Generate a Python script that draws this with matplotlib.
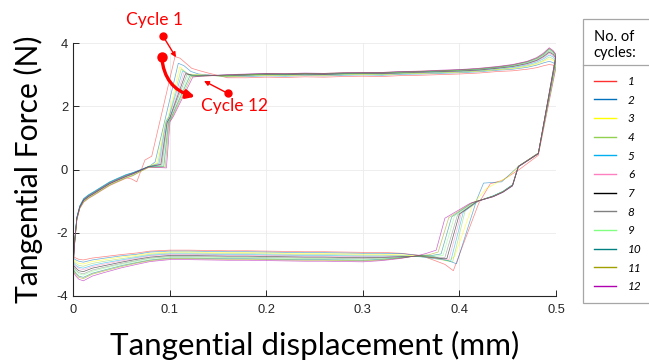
import numpy as np
import matplotlib
matplotlib.use("Agg")
import matplotlib.pyplot as plt
from matplotlib.lines import Line2D

plt.rcParams['axes.unicode_minus'] = False

# ---------------- data ----------------
CYCLES = [str(i) for i in range(1, 13)]
COLORS = ['#ff3030', '#0072bd', '#ffff00', '#92d050', '#00b0f0', '#ff80c0',
          '#000000', '#808080', '#80ff80', '#008080', '#a0a000', '#b000b0']

# upper branch: initial rise (shared x)
RISE_X = [0.0, 0.002, 0.004, 0.007, 0.011, 0.016, 0.021, 0.03, 0.038, 0.046, 0.055]
RISE_F = [
    [-2.7, -2.2, -1.56, -1.22, -1.02, -0.9, -0.81, -0.64, -0.49, -0.38, -0.26],
    [-2.8, -2.15, -1.5, -1.15, -0.92, -0.8, -0.71, -0.54, -0.39, -0.28, -0.16],
    [-2.86, -2.18, -1.53, -1.18, -0.95, -0.83, -0.74, -0.57, -0.42, -0.31, -0.19],
    [-2.85, -2.22, -1.57, -1.21, -1.0, -0.88, -0.79, -0.62, -0.47, -0.36, -0.24],
    [-2.89, -2.16, -1.51, -1.16, -0.93, -0.81, -0.72, -0.55, -0.4, -0.29, -0.17],
    [-2.94, -2.25, -1.6, -1.24, -1.04, -0.92, -0.83, -0.66, -0.51, -0.4, -0.28],
    [-2.97, -2.2, -1.55, -1.2, -0.98, -0.86, -0.77, -0.6, -0.45, -0.34, -0.22],
    [-3.02, -2.19, -1.54, -1.19, -0.96, -0.84, -0.75, -0.58, -0.43, -0.32, -0.2],
    [-3.07, -2.23, -1.58, -1.22, -1.01, -0.89, -0.8, -0.63, -0.48, -0.37, -0.25],
    [-3.1, -2.17, -1.52, -1.17, -0.94, -0.82, -0.73, -0.56, -0.41, -0.3, -0.18],
    [-3.15, -2.24, -1.59, -1.23, -1.03, -0.91, -0.82, -0.65, -0.5, -0.39, -0.27],
    [-3.18, -2.2, -1.55, -1.2, -0.97, -0.85, -0.76, -0.59, -0.44, -0.33, -0.21],
]

# upper branch: stick-slip step (per cycle)
STEP_UP_X = [
    [0.0607, 0.066, 0.0745, 0.0815, 0.1056, 0.1108, 0.1229, 0.1315],
    [0.062, 0.068, 0.075, 0.08, 0.085, 0.109, 0.115, 0.122, 0.13],
    [0.062, 0.07, 0.078, 0.0865, 0.0955, 0.0985, 0.1105, 0.1185],
    [0.062, 0.07, 0.078, 0.0878, 0.096, 0.099, 0.112, 0.12],
    [0.062, 0.07, 0.078, 0.089, 0.0965, 0.0995, 0.1135, 0.1215],
    [0.062, 0.07, 0.078, 0.09, 0.097, 0.1, 0.115, 0.123],
    [0.062, 0.07, 0.078, 0.091, 0.0975, 0.1005, 0.1165, 0.1245],
    [0.062, 0.07, 0.078, 0.092, 0.098, 0.101, 0.118, 0.126],
    [0.062, 0.07, 0.078, 0.093, 0.0985, 0.1015, 0.1195, 0.1275],
    [0.062, 0.07, 0.078, 0.094, 0.099, 0.102, 0.121, 0.129],
    [0.062, 0.07, 0.078, 0.0955, 0.0995, 0.1025, 0.1225, 0.1305],
    [0.062, 0.07, 0.078, 0.0967, 0.1004, 0.1038, 0.124, 0.132],
]
STEP_UP_F = [
    [-0.3, -0.39, 0.30, 0.42, 3.57, 3.52, 3.2, 3.12],
    [-0.1, -0.03, 0.05, 0.12, 0.24, 3.36, 3.28, 3.1, 3.02],
    [-0.12, -0.02, 0.1, 0.2, 1.52, 1.66, 3.25, 3.02],
    [-0.17, -0.05, 0.08, 0.19, 1.48, 1.63, 3.18, 3.0],
    [-0.1, -0.01, 0.09, 0.18, 1.53, 1.67, 3.12, 2.99],
    [-0.2, -0.06, 0.07, 0.17, 1.47, 1.62, 3.07, 2.98],
    [-0.14, -0.03, 0.08, 0.16, 1.5, 1.65, 3.03, 2.97],
    [-0.12, -0.02, 0.09, 0.14, 1.52, 1.66, 3.0, 2.97],
    [-0.18, -0.05, 0.07, 0.12, 1.46, 1.62, 2.98, 2.96],
    [-0.11, -0.01, 0.09, 0.1, 1.51, 1.66, 2.96, 2.95],
    [-0.19, -0.06, 0.06, 0.08, 1.48, 1.64, 2.94, 2.95],
    [-0.13, -0.02, 0.08, 0.05, 1.51, 1.67, 2.92, 2.95],
]

# upper branch: gross-slip plateau (shared x)
UP_X = [0.14, 0.16, 0.18, 0.2, 0.22, 0.24, 0.26, 0.28, 0.3, 0.32, 0.34, 0.36,
        0.38, 0.4, 0.42, 0.44, 0.455, 0.47, 0.48, 0.487, 0.493, 0.497, 0.5]
UP_F = [
    [3.05, 2.9, 2.9, 2.92, 2.91, 2.93, 2.92, 2.94, 2.95, 2.94, 2.97, 2.98, 3.0, 3.02, 3.05, 3.1, 3.12, 3.17, 3.22, 3.28, 3.32, 3.3, 3.22],
    [2.99, 2.93, 2.94, 2.96, 2.95, 2.97, 2.96, 2.98, 2.99, 2.98, 3.01, 3.02, 3.04, 3.06, 3.09, 3.14, 3.17, 3.23, 3.3, 3.37, 3.42, 3.38, 3.3],
    [2.98, 2.94, 2.96, 2.98, 2.97, 2.99, 2.98, 3.0, 3.01, 3.0, 3.03, 3.04, 3.06, 3.08, 3.11, 3.16, 3.19, 3.26, 3.33, 3.42, 3.5, 3.45, 3.36],
    [2.97, 2.95, 2.97, 2.99, 2.98, 3.0, 2.99, 3.01, 3.02, 3.01, 3.04, 3.05, 3.07, 3.09, 3.12, 3.17, 3.21, 3.28, 3.36, 3.45, 3.56, 3.5, 3.41],
    [2.97, 2.96, 2.98, 3.0, 2.99, 3.01, 3.0, 3.02, 3.03, 3.02, 3.05, 3.06, 3.08, 3.1, 3.13, 3.19, 3.23, 3.31, 3.4, 3.5, 3.62, 3.56, 3.46],
    [2.98, 2.97, 2.99, 3.01, 3.0, 3.02, 3.01, 3.03, 3.04, 3.03, 3.06, 3.07, 3.09, 3.11, 3.14, 3.2, 3.25, 3.33, 3.43, 3.54, 3.67, 3.6, 3.5],
    [2.98, 2.97, 2.99, 3.01, 3.0, 3.02, 3.01, 3.03, 3.04, 3.04, 3.06, 3.08, 3.1, 3.12, 3.15, 3.21, 3.26, 3.35, 3.45, 3.57, 3.71, 3.64, 3.53],
    [2.98, 2.98, 3.0, 3.02, 3.01, 3.03, 3.02, 3.04, 3.05, 3.05, 3.07, 3.09, 3.11, 3.13, 3.16, 3.22, 3.27, 3.37, 3.47, 3.6, 3.75, 3.67, 3.56],
    [2.97, 2.98, 3.0, 3.02, 3.02, 3.03, 3.03, 3.05, 3.05, 3.06, 3.08, 3.09, 3.12, 3.14, 3.17, 3.23, 3.28, 3.38, 3.49, 3.62, 3.78, 3.7, 3.58],
    [2.97, 2.99, 3.01, 3.03, 3.02, 3.04, 3.03, 3.05, 3.06, 3.06, 3.09, 3.1, 3.12, 3.15, 3.18, 3.24, 3.3, 3.4, 3.51, 3.64, 3.81, 3.72, 3.6],
    [2.96, 2.99, 3.01, 3.03, 3.03, 3.04, 3.04, 3.06, 3.06, 3.07, 3.09, 3.11, 3.13, 3.15, 3.19, 3.25, 3.31, 3.41, 3.52, 3.66, 3.83, 3.74, 3.62],
    [2.96, 3.0, 3.02, 3.04, 3.03, 3.05, 3.04, 3.06, 3.07, 3.07, 3.1, 3.11, 3.14, 3.16, 3.2, 3.26, 3.32, 3.42, 3.54, 3.68, 3.85, 3.76, 3.64],
]

# lower branch: reversal and step (per cycle)
STEP_DN_X = [
    [0.4817, 0.462, 0.444, 0.432, 0.42, 0.3937, 0.385, 0.372],
    [0.4817, 0.461, 0.4437, 0.425, 0.418, 0.397, 0.388, 0.374],
    [0.4817, 0.461, 0.45, 0.44, 0.428, 0.414, 0.395, 0.388, 0.374],
    [0.4817, 0.461, 0.455, 0.445, 0.435, 0.421, 0.406, 0.393, 0.383],
    [0.4817, 0.461, 0.455, 0.445, 0.435, 0.42, 0.404, 0.391, 0.381],
    [0.4817, 0.461, 0.455, 0.445, 0.435, 0.419, 0.402, 0.389, 0.379],
    [0.4817, 0.461, 0.455, 0.445, 0.435, 0.418, 0.4, 0.387, 0.377],
    [0.4817, 0.461, 0.455, 0.445, 0.435, 0.417, 0.398, 0.385, 0.375],
    [0.4817, 0.461, 0.455, 0.445, 0.435, 0.416, 0.395, 0.383, 0.373],
    [0.4817, 0.461, 0.455, 0.445, 0.435, 0.414, 0.392, 0.381, 0.371],
    [0.4817, 0.461, 0.455, 0.445, 0.435, 0.413, 0.389, 0.378, 0.368],
    [0.4817, 0.461, 0.455, 0.445, 0.435, 0.411, 0.385, 0.376, 0.366],
]
STEP_DN_F = [
    [0.45, 0.0, -0.35, -0.45, -1.07, -3.2, -3.0, -2.85],
    [0.5, 0.09, -0.39, -0.43, -0.95, -2.98, -2.88, -2.76],
    [0.5, 0.09, -0.25, -0.4, -0.6, -1.1, -2.75, -2.9, -2.78],
    [0.5, 0.09, -0.5, -0.7, -0.84, -0.98, -1.3, -2.92, -2.86],
    [0.51, 0.1, -0.48, -0.69, -0.83, -0.99, -1.35, -2.9, -2.84],
    [0.5, 0.09, -0.52, -0.72, -0.86, -1.0, -1.38, -2.86, -2.82],
    [0.52, 0.1, -0.49, -0.7, -0.84, -1.01, -1.41, -2.82, -2.8],
    [0.5, 0.09, -0.51, -0.71, -0.85, -1.02, -1.44, -2.78, -2.77],
    [0.51, 0.1, -0.5, -0.7, -0.85, -1.03, -1.47, -2.72, -2.74],
    [0.5, 0.09, -0.52, -0.72, -0.86, -1.04, -1.5, -2.67, -2.72],
    [0.51, 0.1, -0.5, -0.71, -0.85, -1.05, -1.52, -2.61, -2.7],
    [0.5, 0.09, -0.51, -0.72, -0.86, -1.07, -1.54, -2.55, -2.65],
]

# lower branch: plateau back to x = 0 (shared x)
LOW_X = [0.36, 0.34, 0.32, 0.3, 0.28, 0.26, 0.24, 0.22, 0.2, 0.18, 0.16, 0.14,
         0.12, 0.1, 0.08, 0.066, 0.05, 0.031, 0.02, 0.0107, 0.006, 0.003, 0.0]
LOW_F = [
    [-2.72, -2.65, -2.62, -2.62, -2.61, -2.6, -2.6, -2.59, -2.58, -2.57, -2.57, -2.56, -2.55, -2.55, -2.58, -2.64, -2.69, -2.76, -2.8, -2.86, -2.84, -2.8, -2.75],
    [-2.72, -2.66, -2.65, -2.65, -2.64, -2.63, -2.63, -2.62, -2.61, -2.6, -2.6, -2.59, -2.58, -2.58, -2.61, -2.68, -2.73, -2.81, -2.86, -2.93, -2.9, -2.86, -2.8],
    [-2.74, -2.7, -2.68, -2.68, -2.67, -2.66, -2.66, -2.65, -2.64, -2.63, -2.63, -2.62, -2.61, -2.61, -2.65, -2.71, -2.77, -2.86, -2.91, -2.99, -2.97, -2.91, -2.85],
    [-2.76, -2.72, -2.71, -2.71, -2.7, -2.69, -2.69, -2.68, -2.67, -2.66, -2.66, -2.65, -2.64, -2.64, -2.68, -2.75, -2.82, -2.91, -2.97, -3.06, -3.03, -2.97, -2.89],
    [-2.76, -2.74, -2.74, -2.74, -2.73, -2.72, -2.72, -2.71, -2.7, -2.69, -2.69, -2.68, -2.67, -2.67, -2.71, -2.78, -2.86, -2.96, -3.03, -3.12, -3.09, -3.03, -2.94],
    [-2.75, -2.75, -2.76, -2.76, -2.75, -2.74, -2.74, -2.73, -2.72, -2.71, -2.71, -2.7, -2.69, -2.69, -2.73, -2.81, -2.89, -3.0, -3.07, -3.17, -3.13, -3.07, -2.97],
    [-2.74, -2.76, -2.78, -2.79, -2.78, -2.77, -2.77, -2.76, -2.75, -2.74, -2.74, -2.73, -2.72, -2.72, -2.77, -2.84, -2.93, -3.05, -3.12, -3.23, -3.2, -3.12, -3.02],
    [-2.74, -2.77, -2.8, -2.82, -2.81, -2.8, -2.8, -2.79, -2.78, -2.77, -2.77, -2.76, -2.75, -2.75, -2.8, -2.88, -2.97, -3.1, -3.18, -3.3, -3.26, -3.18, -3.07],
    [-2.73, -2.78, -2.82, -2.84, -2.83, -2.82, -2.82, -2.81, -2.8, -2.79, -2.79, -2.78, -2.77, -2.77, -2.82, -2.9, -3.0, -3.13, -3.22, -3.34, -3.3, -3.22, -3.1],
    [-2.72, -2.79, -2.84, -2.87, -2.86, -2.85, -2.85, -2.84, -2.83, -2.82, -2.82, -2.81, -2.8, -2.8, -2.86, -2.94, -3.04, -3.19, -3.28, -3.41, -3.37, -3.28, -3.15],
    [-2.71, -2.8, -2.86, -2.89, -2.88, -2.87, -2.87, -2.86, -2.85, -2.84, -2.84, -2.83, -2.82, -2.82, -2.88, -2.96, -3.07, -3.22, -3.31, -3.45, -3.41, -3.31, -3.18],
    [-2.7, -2.81, -2.88, -2.92, -2.91, -2.9, -2.9, -2.89, -2.88, -2.87, -2.87, -2.86, -2.85, -2.85, -2.91, -3.0, -3.11, -3.27, -3.37, -3.52, -3.47, -3.37, -3.23],
]

X_TICKS = [0, 0.1, 0.2, 0.3, 0.4, 0.5]
X_TICKLABELS = ['0', '0.1', '0.2', '0.3', '0.4', '0.5']
Y_TICKS = [-4, -2, 0, 2, 4]
Y_TICKLABELS = ['-4', '-2', '0', '2', '4']

# ---------------- figure ----------------
W, H = 649, 360
fig = plt.figure(figsize=(W / 100, H / 100), dpi=100)
ax = fig.add_axes([73 / W, 1 - 296 / H, (556 - 73) / W, (296 - 43) / H])

for k in range(12):
    xs = np.concatenate([RISE_X, STEP_UP_X[k], UP_X, STEP_DN_X[k], LOW_X])
    fs = np.concatenate([RISE_F[k], STEP_UP_F[k], UP_F[k], STEP_DN_F[k], LOW_F[k]])
    ax.plot(xs, fs, color=COLORS[k], lw=0.5, alpha=0.6, label=CYCLES[k],
            solid_joinstyle='round')

ax.set_xlim(0, 0.5)
ax.set_ylim(-4, 4)
ax.set_xticks(X_TICKS)
ax.set_xticklabels(X_TICKLABELS)
ax.set_yticks(Y_TICKS)
ax.set_yticklabels(Y_TICKLABELS)
ax.grid(True, color='#ebebeb', lw=0.6)
ax.set_axisbelow(True)
for s in ['top', 'right']:
    ax.spines[s].set_visible(False)
for s in ['left', 'bottom']:
    ax.spines[s].set_color('#262626')
    ax.spines[s].set_linewidth(0.8)
ax.tick_params(axis='both', direction='in', length=4, width=0.7, colors='#262626',
               labelsize=9.3)
ax.tick_params(axis='x', pad=5.5)
ax.tick_params(axis='y', pad=3.5)
for lab in ax.get_xticklabels() + ax.get_yticklabels():
    lab.set_family('Liberation Sans')

LABEL_FONT = 'Lato'
ax.set_xlabel('Tangential displacement (mm)', fontsize=22.6, family=LABEL_FONT,
              labelpad=11, color='black')
ax.set_ylabel('Tangential Force (N)', fontsize=21.6, family=LABEL_FONT,
              labelpad=10, color='black')

# annotations
RED = '#ff0000'
ax.text(0.0839, 4.727, 'Cycle 1', color=RED, ha='center', va='center',
        fontsize=12.5, family=LABEL_FONT, clip_on=False)
ax.text(0.1677, 2.0, 'Cycle 12', color=RED, ha='center', va='center',
        fontsize=12.5, family=LABEL_FONT, clip_on=False)
ax.plot([0.0929], [4.231], 'o', color=RED, ms=5, clip_on=False, zorder=5)
ax.plot([0.0918], [3.548], 'o', color=RED, ms=6.5, clip_on=False, zorder=5)
ax.plot([0.1601], [2.41], 'o', color=RED, ms=5, clip_on=False, zorder=5)
ax.annotate('', xy=(0.1066, 3.548), xytext=(0.0929, 4.231),
            arrowprops=dict(arrowstyle='-|>', color=RED, lw=1, mutation_scale=7,
                            shrinkA=0, shrinkB=0), annotation_clip=False)
ax.annotate('', xy=(0.1356, 2.80), xytext=(0.1601, 2.41),
            arrowprops=dict(arrowstyle='-|>', color=RED, lw=1, mutation_scale=7,
                            shrinkA=0, shrinkB=0), annotation_clip=False)
ax.annotate('', xy=(0.1263, 2.302), xytext=(0.0918, 3.548),
            arrowprops=dict(arrowstyle='-|>', color=RED, lw=2.4, mutation_scale=12,
                            shrinkA=0, shrinkB=0, connectionstyle='arc3,rad=0.35'),
            annotation_clip=False)

# legend
leg = ax.legend(loc='upper left', bbox_to_anchor=(583 / W, 1 - 19 / H, 90 / W, 0),
                bbox_transform=fig.transFigure, mode='expand', borderaxespad=0,
                fancybox=False, edgecolor='#a6a6a6', framealpha=1,
                title='No. of\ncycles:', alignment='left',
                prop={'family': LABEL_FONT, 'style': 'italic', 'size': 8.5},
                title_fontproperties={'family': LABEL_FONT, 'size': 10.5},
                handlelength=1.9, handletextpad=1.0, labelspacing=0.65,
                borderpad=0.9)
leg._legend_box.sep = leg._legend_box.sep + 6
leg.get_frame().set_linewidth(0.9)
for ln in leg.get_lines():
    ln.set_linewidth(1.0)
    ln.set_alpha(1)
fig.add_artist(Line2D([583 / W, 1.0], [1 - 65 / H] * 2, transform=fig.transFigure,
                      color='#a6a6a6', lw=0.9))

fig.savefig('out.png', dpi=100)
